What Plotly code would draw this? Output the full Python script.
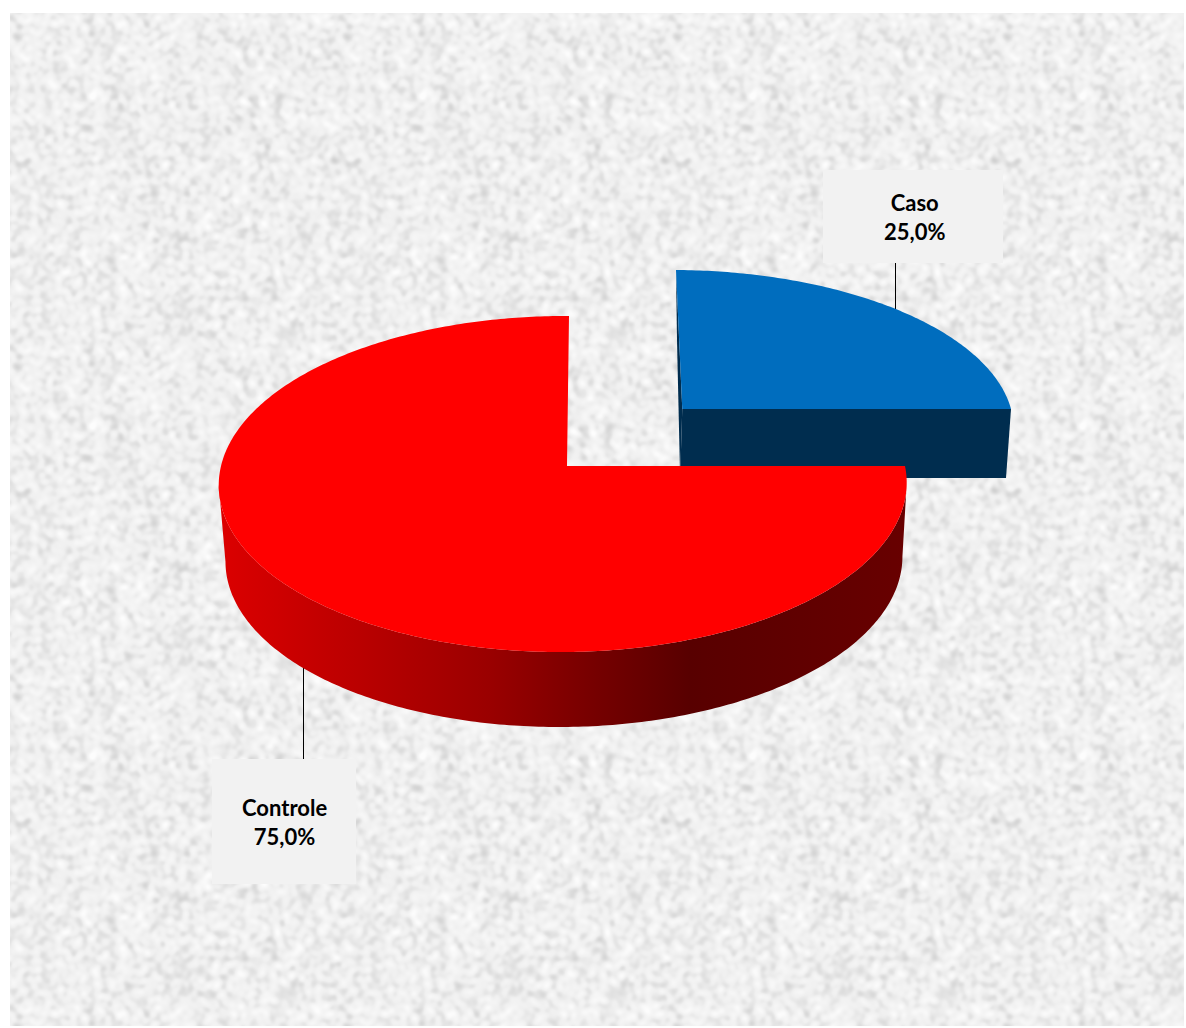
import base64
import struct
import zlib

import numpy as np
import plotly.graph_objects as go

# --- chart values ---
categories = ["Caso", "Controle"]
shares = [25.0, 75.0]
label_texts = ["25,0%", "75,0%"]
top_colors = ["#006DBE", "#FF0000"]
side_blue = "#002D4F"

W, H = 1186, 1028


def homography(t, r, b, l):
    """Projective map taking the unit circle's four compass points to t, r, b, l."""
    src = [(0, 1), (1, 0), (0, -1), (-1, 0)]
    A, y = [], []
    for (u, v), (X, Y) in zip(src, [t, r, b, l]):
        A.append([u, v, 1, 0, 0, 0, -u * X, -v * X]); y.append(X)
        A.append([0, 0, 0, u, v, 1, -u * Y, -v * Y]); y.append(Y)
    h = np.linalg.solve(np.array(A, float), np.array(y, float))
    M = np.append(h, 1).reshape(3, 3)

    def project(theta):
        theta = np.atleast_1d(theta)
        p = M @ np.vstack([np.sin(theta), np.cos(theta), np.ones_like(theta)])
        return p[0] / p[2], p[1] / p[2]

    def center():
        p = M @ np.array([0, 0, 1.0])
        return p[0] / p[2], p[1] / p[2]

    project.center = center
    return project


def paper_texture():
    """Mottled grey paper background: a hashed tile, softened and repeated."""
    n = 330
    yy, xx = np.mgrid[0:n, 0:n]
    s = np.sin(xx * 12.9898 + yy * 78.233) * 43758.5453
    v = s - np.floor(s)
    for _ in range(2):
        v = sum(np.roll(np.roll(v, i, 0), j, 1)
                for i in (-2, -1, 0, 1, 2) for j in (-1, 0, 1)) / 15
        v = sum(np.roll(np.roll(v, i, 0), j, 1)
                for i in (-1, 0, 1) for j in (-2, -1, 0, 1, 2)) / 15
    v = (v - v.mean()) / v.std()
    v = np.clip(240 + np.where(v > 0, 4.0 * v, 8.0 * v), 195, 253)
    tile = v.astype(np.uint8)
    h_px, w_px = 1013, 1174
    img = np.tile(tile, (h_px // n + 1, w_px // n + 1))[:h_px, :w_px]
    raw = b"".join(b"\x00" + row.tobytes() for row in img)

    def chunk(tag, data):
        return (struct.pack(">I", len(data)) + tag + data +
                struct.pack(">I", zlib.crc32(tag + data) & 0xFFFFFFFF))

    png = (b"\x89PNG\r\n\x1a\n" +
           chunk(b"IHDR", struct.pack(">IIBBBBB", w_px, h_px, 8, 0, 0, 0, 0)) +
           chunk(b"IDAT", zlib.compress(raw, 9)) + chunk(b"IEND", b""))
    return "data:image/png;base64," + base64.b64encode(png).decode(), w_px, h_px


# pie discs (perspective of the plot area)
red_top = homography((569, 316), (905, 466), (564.5, 652), (221, 466))
red_low = homography((570, 391), (901, 541), (560, 727), (228, 541))
blue_top = homography((676, 270), (1011, 409), (690, 581), (345, 409))
blue_low = homography((677, 340), (1006, 478), (684, 650), (350, 478))

fracs = np.cumsum([0] + shares) / sum(shares) * 2 * np.pi
caso_a = np.linspace(fracs[0], fracs[1], 120)
ctrl_a = np.linspace(fracs[1], fracs[2], 360)

fig = go.Figure()


def poly(x, y, color=None, gradient=None):
    kw = dict(fillgradient=gradient) if gradient else dict(fillcolor=color)
    fig.add_trace(go.Scatter(x=list(x), y=list(y), mode="lines", fill="toself",
                             hoverinfo="skip", showlegend=False,
                             line=dict(width=0, simplify=False), **kw))


# --- Caso slice ---
cx, cy = blue_top.center()
lx, ly = blue_low.center()
tx, ty = blue_top(fracs[0])
tlx, tly = blue_low(fracs[0])
rx, ry = blue_top(fracs[1])
rlx, rly = blue_low(fracs[1])
poly([tx[0], tlx[0], lx, cx], [ty[0], tly[0], ly, cy], side_blue)
poly([cx, rx[0], rlx[0], lx], [cy, ry[0], rly[0], ly], side_blue)
ax, ay = blue_top(caso_a)
poly(np.r_[cx, ax], np.r_[cy, ay], top_colors[0])

# --- Controle slice: rim shaded left-to-right, between the silhouette tangents ---
rim_x = [226, 490, 600, 690, 800, 902]
rim_c = ["#DC0000", "#9A0000", "#740000", "#580000", "#600000", "#680000"]
x0, y0 = red_top(ctrl_a)
x1, y1 = red_low(ctrl_a)
i0a, i0b = int(np.argmax(x0)), int(np.argmin(x0))
i1a, i1b = int(np.argmax(x1)), int(np.argmin(x1))
rx_all = np.r_[x0[i0a:i0b + 1], x1[i1a:i1b + 1][::-1]]
ry_all = np.r_[y0[i0a:i0b + 1], y1[i1a:i1b + 1][::-1]]
span = rx_all.max() - rx_all.min()
scale = [[float(np.clip((v - rx_all.min()) / span, 0, 1)), c] for v, c in zip(rim_x, rim_c)]
scale[0][0], scale[-1][0] = 0.0, 1.0
poly(rx_all, ry_all, gradient=dict(type="horizontal", colorscale=scale))

cx, cy = red_top.center()
ax, ay = red_top(ctrl_a)
poly(np.r_[cx, ax], np.r_[cy, ay], top_colors[1])

box_fill = "#F2F2F2"
shapes = [
    dict(type="rect", xref="x", yref="y", x0=823, x1=1003, y0=170, y1=263,
         fillcolor=box_fill, line_width=0, layer="below"),
    dict(type="rect", xref="x", yref="y", x0=212, x1=356, y0=759, y1=884,
         fillcolor=box_fill, line_width=0, layer="below"),
    dict(type="line", xref="x", yref="y", x0=895.5, x1=895.5, y0=263, y1=309,
         line=dict(color="black", width=1), layer="below"),
    dict(type="line", xref="x", yref="y", x0=303.5, x1=303.5, y0=665, y1=759,
         line=dict(color="black", width=1), layer="below"),
]

positions = [(914, 217), (284, 822)]
annotations = [
    dict(x=px, y=py, xref="x", yref="y", text=f"<b>{c}<br>{t}</b>", showarrow=False,
         align="center", font=dict(family="Lato", size=22, color="#000000"))
    for (px, py), c, t in zip(positions, categories, label_texts)
]

src, w_px, h_px = paper_texture()
images = [dict(source=src, xref="paper", yref="paper",
               x=10 / W, y=1 - 13 / H,
               sizex=w_px / W, sizey=h_px / H,
               xanchor="left", yanchor="top", sizing="stretch", layer="below")]

fig.update_layout(
    width=W, height=H, margin=dict(l=0, r=0, t=0, b=0),
    paper_bgcolor="white", plot_bgcolor="white",
    xaxis=dict(range=[0, W], visible=False, fixedrange=True),
    yaxis=dict(range=[H, 0], visible=False, fixedrange=True),
    shapes=shapes, annotations=annotations, images=images, showlegend=False,
)
fig.write_html("out.html", config=dict(displayModeBar=False),
               post_script="document.documentElement.style.overflow='hidden';"
                           "document.body.style.overflow='hidden';"
                           "document.body.style.margin='0';")
